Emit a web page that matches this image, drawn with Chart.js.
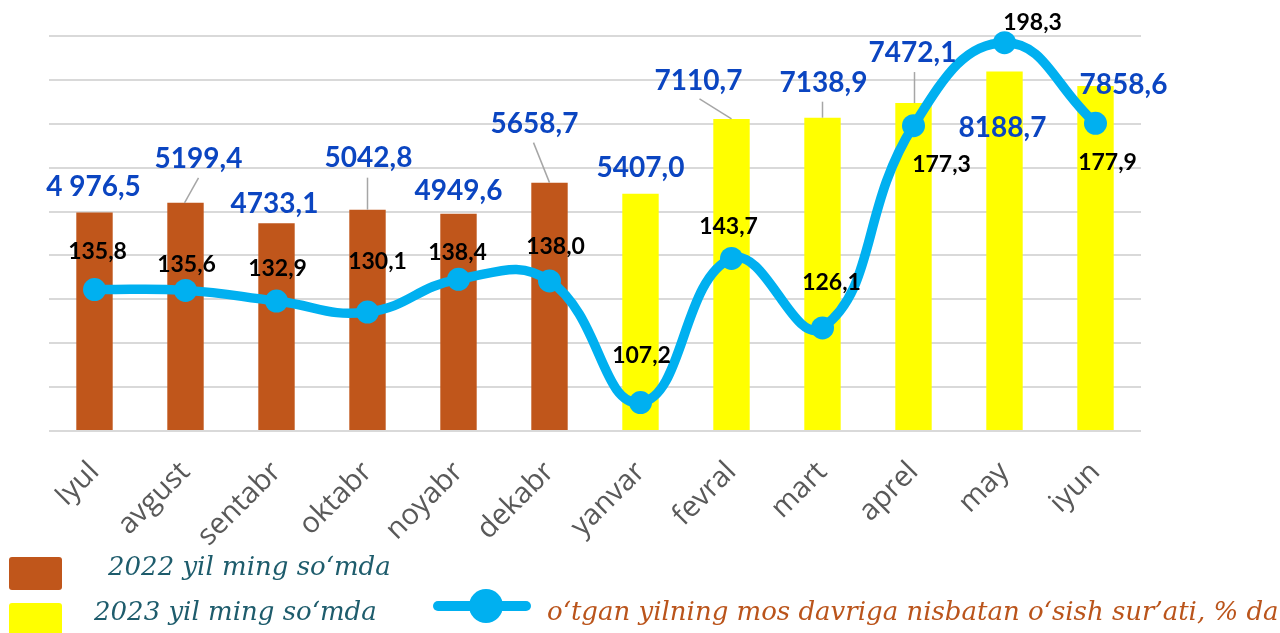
<!DOCTYPE html>
<html>
<head>
<meta charset="utf-8">
<script src="https://cdn.jsdelivr.net/npm/chart.js@4.4.1/dist/chart.umd.min.js"></script>
<style>
html,body{margin:0;padding:0;background:#fff;}
#wrap{position:relative;width:1280px;height:633px;overflow:hidden;background:#fff;}
#c{position:absolute;left:0;top:0;}
.lg{position:absolute;font-family:"DejaVu Serif",serif;font-style:italic;font-size:26px;line-height:26px;white-space:nowrap;}
.box{position:absolute;border-radius:3px;}
</style>
</head>
<body>
<div id="wrap">
  <canvas id="c" width="1280" height="633"></canvas>
  <div class="box" id="box1" style="left:9px;top:557px;width:53px;height:33px;"></div>
  <div class="box" id="box2" style="left:9px;top:603px;width:53px;height:33px;"></div>
  <div class="lg" id="lg1" style="left:108px;top:553px;color:#1E5C6C;"></div>
  <div class="lg" id="lg2" style="left:94px;top:598px;color:#1E5C6C;"></div>
  <div id="lgLine" style="position:absolute;left:433px;top:601px;width:98px;height:10px;border-radius:5px;"></div>
  <div id="lgDot" style="position:absolute;left:469px;top:589px;width:34px;height:34px;border-radius:50%;"></div>
  <div class="lg" id="lg3" style="left:547px;top:598px;color:#BA541B;"></div>
</div>
<script>
// ---------- data ----------
const categories = ['Iyul','avgust','sentabr','oktabr','noyabr','dekabr','yanvar','fevral','mart','aprel','may','iyun'];
const values2022 = [4976.5, 5199.4, 4733.1, 5042.8, 4949.6, 5658.7, null, null, null, null, null, null];
const values2023 = [null, null, null, null, null, null, 5407.0, 7110.7, 7138.9, 7472.1, 8188.7, 7858.6];
const growthRate = [135.8, 135.6, 132.9, 130.1, 138.4, 138.0, 107.2, 143.7, 126.1, 177.3, 198.3, 177.9];
const barValueLabels = ['4 976,5','5199,4','4733,1','5042,8','4949,6','5658,7','5407,0','7110,7','7138,9','7472,1','8188,7','7858,6'];
const seriesNames = ['2022 yil ming so‘mda', '2023 yil ming so‘mda', 'o‘tgan yilning mos davriga nisbatan o‘sish sur’ati, % da'];

// ---------- styles ----------
const colors = { y2022: '#C0561B', y2023: '#FFFF00', line: '#00B0F0', barLabel: '#0B45C1', lineLabel: '#000000', leader: '#A6A6A6', grid: '#D9D9D9', tick: '#595959' };
// label offsets (pixels, relative to bar top / point)
const barLabelOffsets = [[-1,-27],[13,-45],[-2,-20],[1,-53],[0,-24],[-15,-60],[0,-27],[-33,-39],[1,-36],[-1,-51],[-2,55],[28,-2]];
const barLeaders = [null,[13,-25,-1],null,[0,-32,0],null,[-16,-40,0],null,[-32,-20,0],[0,-16,0],[1,-31,1],null,null];
const lineLabelOffsets = [[3,-39],[1,-27],[1,-33],[10,-51],[-1,-28],[6,-35],[1,-48],[-3,-33],[9,-46],[28,38],[28,-21],[12,38]];

document.getElementById('box1').style.background = colors.y2022;
document.getElementById('box2').style.background = colors.y2023;
document.getElementById('lgLine').style.background = colors.line;
document.getElementById('lgDot').style.background = colors.line;
document.getElementById('lg1').textContent = seriesNames[0];
document.getElementById('lg2').textContent = seriesNames[1];
document.getElementById('lg3').textContent = seriesNames[2];

const fmt = v => v.toFixed(1).replace('.', ',');

const labelPlugin = {
  id: 'valueLabels',
  afterDatasetsDraw(chart) {
    const ctx = chart.ctx;
    ctx.save();
    const barFont = 28, lineFont = 23;
    [0, 1].forEach(di => {
      const meta = chart.getDatasetMeta(di);
      const data = chart.data.datasets[di].data;
      meta.data.forEach((el, i) => {
        if (data[i] == null) return;
        const lead = barLeaders[i];
        if (lead) {
          ctx.strokeStyle = colors.leader;
          ctx.lineWidth = 1.5;
          ctx.beginPath();
          ctx.moveTo(el.x + lead[0], el.y + lead[1]);
          ctx.lineTo(el.x + lead[2], el.y);
          ctx.stroke();
        }
        const o = barLabelOffsets[i];
        ctx.font = 'bold ' + barFont + 'px Lato';
        ctx.fillStyle = colors.barLabel;
        ctx.textAlign = 'center';
        ctx.textBaseline = 'alphabetic';
        ctx.fillText(barValueLabels[i], el.x + o[0], el.y + o[1] + barFont * 0.36);
      });
    });
    const lmeta = chart.getDatasetMeta(2);
    lmeta.data.forEach((el, i) => {
      const o = lineLabelOffsets[i];
      ctx.font = 'bold ' + lineFont + 'px Lato';
      ctx.fillStyle = colors.lineLabel;
      ctx.textAlign = 'center';
      ctx.textBaseline = 'alphabetic';
      ctx.fillText(fmt(growthRate[i]), el.x + o[0], el.y + o[1] + lineFont * 0.36);
    });
    ctx.restore();
  }
};

new Chart(document.getElementById('c'), {
  type: 'bar',
  data: {
    labels: categories,
    datasets: [
      { label: seriesNames[0], data: values2022, backgroundColor: colors.y2022, grouped: false, barPercentage: 0.4, categoryPercentage: 1, yAxisID: 'y', order: 2 },
      { label: seriesNames[1], data: values2023, backgroundColor: colors.y2023, grouped: false, barPercentage: 0.4, categoryPercentage: 1, yAxisID: 'y', order: 2 },
      { type: 'line', label: seriesNames[2], data: growthRate, yAxisID: 'y2', borderColor: colors.line, backgroundColor: colors.line,
        borderWidth: 9.5, pointRadius: 11.5, pointBorderWidth: 0, pointBackgroundColor: colors.line, tension: 0.45, clip: false, order: 0 }
    ]
  },
  options: {
    responsive: false,
    animation: false,
    devicePixelRatio: 1,
    layout: { padding: { left: 49, right: 139, top: 36, bottom: 0 } },
    plugins: { legend: { display: false }, tooltip: { enabled: false } },
    scales: {
      x: {
        grid: { display: false, drawTicks: false },
        border: { display: false },
        ticks: { autoSkip: false, maxRotation: 45, minRotation: 45, padding: 24, color: colors.tick, font: { family: 'Open Sans', size: 29 } },
        afterFit(s) { s.height = 202; }
      },
      y: {
        min: 0, max: 9000,
        ticks: { display: false, stepSize: 1000 },
        grid: { color: colors.grid, lineWidth: 2, drawTicks: false },
        border: { display: false },
        afterFit(s) { s.width = 0; }
      },
      y2: { display: false, min: 100, max: 200 }
    }
  },
  plugins: [labelPlugin]
});
</script>
</body>
</html>
